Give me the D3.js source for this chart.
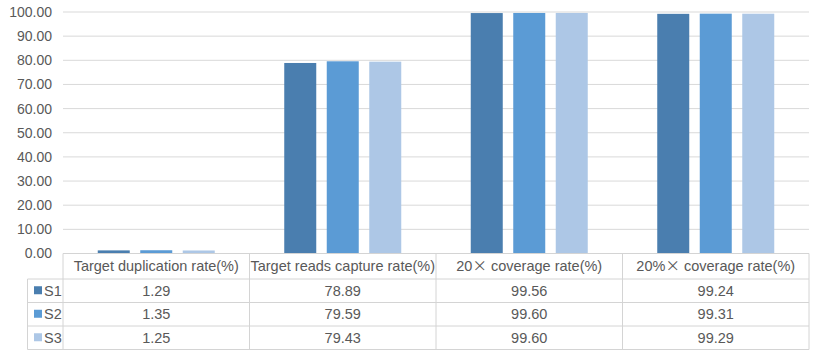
<!DOCTYPE html>
<html><head><meta charset="utf-8">
<script src="https://cdn.jsdelivr.net/npm/d3@7"></script>
<style>body{margin:0;background:#fff}svg{display:block}</style>
</head><body>
<svg id="c" width="817" height="358"></svg>
<script>
const categories = ["Target duplication rate(%)", "Target reads capture rate(%)", "20\u00D7 coverage rate(%)", "20%\u00D7 coverage rate(%)"];
const seriesNames = ["S1", "S2", "S3"];
const S1 = [1.29, 78.89, 99.56, 99.24];
const S2 = [1.35, 79.59, 99.60, 99.31];
const S3 = [1.25, 79.43, 99.60, 99.29];
const yTicks = [0, 10, 20, 30, 40, 50, 60, 70, 80, 90, 100];
const colors = ["#4a7eaf", "#5b9bd5", "#adc7e6"];
const series = [S1, S2, S3];

(function(){
const svg = d3.select("#c");
const font = "'Liberation Sans', Arial, sans-serif";
const textColor = "#595959";
const fs = 14.5;
const pl = 63, pr = 809, pt = 12, pb = 253.5;

const x0 = d3.scaleBand().domain(categories).range([pl, pr]).paddingInner(0).paddingOuter(0);
const bw0 = x0.bandwidth();
const x1 = d3.scaleBand().domain(seriesNames).range([bw0/2 - 58.5, bw0/2 + 58.5]).paddingInner(0.247).paddingOuter(0);
const y = d3.scaleLinear().domain([0, 100]).range([pb, pt]);

svg.append("g").selectAll("line").data(yTicks.filter(d => d > 0)).join("line")
  .attr("x1", pl).attr("x2", pr)
  .attr("y1", d => y(d)).attr("y2", d => y(d))
  .attr("stroke", "#d9d9d9").attr("stroke-width", 1);

const yAxis = d3.axisLeft(y).tickValues(yTicks).tickFormat(d3.format(".2f")).tickSize(0).tickPadding(11);
const ga = svg.append("g").attr("transform", `translate(${pl},0)`).call(yAxis);
ga.select(".domain").remove();
ga.selectAll("text").attr("font-family", font).attr("font-size", 14).attr("fill", textColor);

const g = svg.append("g");
categories.forEach((c, i) => {
  seriesNames.forEach((s, j) => {
    g.append("rect")
      .attr("x", x0(c) + x1(s))
      .attr("width", x1.bandwidth())
      .attr("y", y(series[j][i]))
      .attr("height", y(0) - y(series[j][i]))
      .attr("fill", colors[j]);
  });
});

const tableTop = pb, headerH = 25.5, rowH = 23.5, legendLeft = 27.5;
const tcol = "#d4d4d4";
const t = svg.append("g");
const rowsBottom = tableTop + headerH + rowH * 3;
t.append("line").attr("x1", pl).attr("x2", pr).attr("y1", tableTop).attr("y2", tableTop).attr("stroke", tcol);
[0, 1, 2, 3].forEach(k => {
  const yy = tableTop + headerH + rowH * k;
  t.append("line").attr("x1", legendLeft).attr("x2", pr).attr("y1", yy).attr("y2", yy).attr("stroke", tcol);
});
t.append("line").attr("x1", legendLeft).attr("x2", legendLeft).attr("y1", tableTop + headerH).attr("y2", rowsBottom).attr("stroke", tcol);
categories.forEach(c => {
  t.append("line").attr("x1", x0(c)).attr("x2", x0(c)).attr("y1", tableTop).attr("y2", rowsBottom).attr("stroke", tcol);
});
t.append("line").attr("x1", pr).attr("x2", pr).attr("y1", tableTop).attr("y2", rowsBottom).attr("stroke", tcol);

categories.forEach(c => {
  const tx = t.append("text").attr("x", x0(c) + bw0/2).attr("y", tableTop + headerH/2 + 5)
    .attr("text-anchor", "middle").attr("font-family", font).attr("font-size", fs).attr("fill", textColor);
  const parts = c.split("\u00D7");
  if (parts.length > 1) {
    tx.append("tspan").text(parts[0]);
    tx.append("tspan").attr("font-family", "'Noto Sans CJK SC'").text("\u00D7");
    tx.append("tspan").text(" " + parts[1].trim());
  } else tx.text(c);
});

seriesNames.forEach((s, j) => {
  const cy = tableTop + headerH + rowH * j + rowH/2;
  t.append("rect").attr("x", 34).attr("y", cy - 4.5).attr("width", 8).attr("height", 8).attr("fill", colors[j]);
  t.append("text").attr("x", 44).attr("y", cy + 5).attr("font-family", font).attr("font-size", fs).attr("fill", textColor).text(s);
  categories.forEach((c, i) => {
    t.append("text").attr("x", x0(c) + bw0/2).attr("y", cy + 5).attr("text-anchor", "middle")
      .attr("font-family", font).attr("font-size", fs).attr("fill", textColor).text(series[j][i].toFixed(2));
  });
});
})();
</script>
</body></html>
